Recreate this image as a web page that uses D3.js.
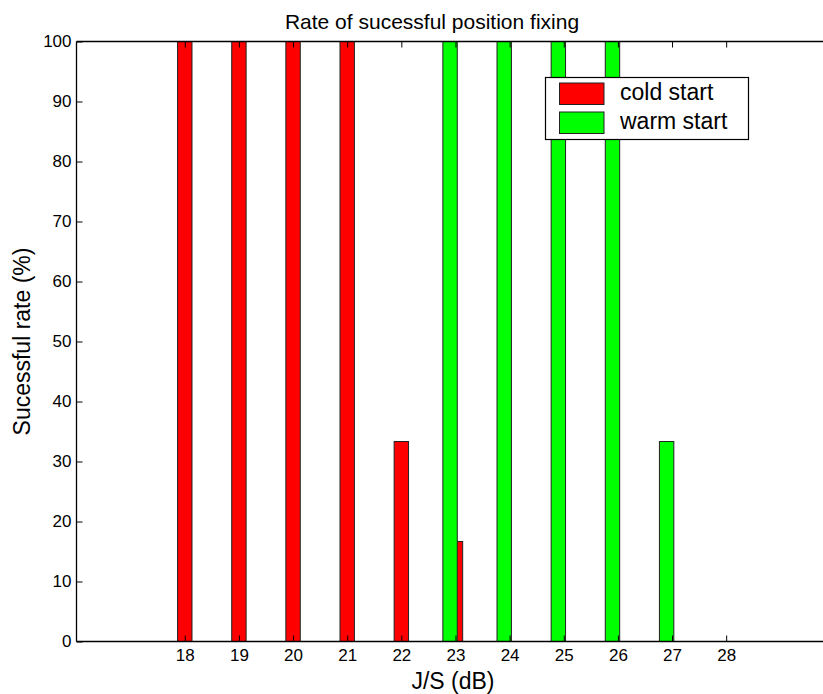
<!DOCTYPE html>
<html>
<head>
<meta charset="utf-8">
<script src="https://cdn.jsdelivr.net/npm/d3@7"></script>
<style>
  html, body { margin: 0; padding: 0; background: #fff; }
  svg { display: block; font-family: "Liberation Sans", Arial, sans-serif; }
</style>
</head>
<body>
<svg id="chart" width="823" height="694"></svg>
<script>
// J/S values (dB) and success rates (%)
const coldX = [18, 19, 20, 21, 22, 23];
const coldRate = [100, 100, 100, 100, 33.33, 16.67];
const warmX = [23, 24, 25, 26, 27];
const warmRate = [100, 100, 100, 100, 33.33];
const xTicks = [18, 19, 20, 21, 22, 23, 24, 25, 26, 27, 28];
const yTicks = [0, 10, 20, 30, 40, 50, 60, 70, 80, 90, 100];
const seriesNames = ["cold start", "warm start"];
const seriesColors = ["#ff0000", "#00ff00"];

const svg = d3.select("#chart");
const W = 823;
const plotLeft = 76.5, plotTop = 41.5, plotBottom = 641.5;
const unit = 54.14;

const x = d3.scaleLinear().domain([16, 30]).range([plotLeft, plotLeft + 14 * unit]);
const y = d3.scaleLinear().domain([0, 100]).range([plotBottom, plotTop]);

const barW = 0.266;      // bar width in x units
const warmShift = -0.1;  // warm series drawn slightly left of its tick

// title
svg.append("text")
  .attr("x", 432).attr("y", 29)
  .attr("text-anchor", "middle")
  .attr("font-size", 21)
  .text("Rate of sucessful position fixing");

// bars: cold start first, warm start drawn on top
const cold = coldX.map((v, i) => ({ x: v, r: coldRate[i] }));
const warm = warmX.map((v, i) => ({ x: v + warmShift, r: warmRate[i] }));

function drawBars(data, color) {
  svg.append("g").selectAll("rect").data(data).join("rect")
    .attr("x", d => x(d.x - barW / 2))
    .attr("y", d => y(d.r))
    .attr("width", d => x(d.x + barW / 2) - x(d.x - barW / 2))
    .attr("height", d => y(0) - y(d.r))
    .attr("fill", color)
    .attr("stroke", "#222")
    .attr("stroke-width", 1);
}
drawBars(cold, seriesColors[0]);
drawBars(warm, seriesColors[1]);

// axes frame (right side runs past the view)
const frame = svg.append("g").attr("stroke", "#000").attr("stroke-width", 1.3);
frame.append("line").attr("x1", plotLeft).attr("x2", W).attr("y1", plotBottom).attr("y2", plotBottom);
frame.append("line").attr("x1", plotLeft).attr("x2", W).attr("y1", plotTop).attr("y2", plotTop);
frame.append("line").attr("x1", plotLeft).attr("x2", plotLeft).attr("y1", plotTop).attr("y2", plotBottom);

// bottom axis, ticks pointing inward
const xAxis = d3.axisBottom(x).tickValues(xTicks).tickSizeInner(-6).tickSizeOuter(0).tickPadding(7.5);
const gx = svg.append("g").attr("transform", `translate(0,${plotBottom})`).call(xAxis);
gx.select(".domain").remove();
gx.selectAll("text").attr("font-size", 17).attr("font-family", "Liberation Sans, Arial, sans-serif").attr("fill", "#000");

// top tick marks
const xTop = d3.axisTop(x).tickValues(xTicks).tickSizeInner(-6).tickSizeOuter(0).tickFormat("");
const gxt = svg.append("g").attr("transform", `translate(0,${plotTop})`).call(xTop);
gxt.select(".domain").remove();

// left axis, ticks pointing inward
const yAxis = d3.axisLeft(y).tickValues(yTicks).tickSizeInner(-6).tickSizeOuter(0).tickPadding(5);
const gy = svg.append("g").attr("transform", `translate(${plotLeft},0)`).call(yAxis);
gy.select(".domain").remove();
gy.selectAll("text").attr("font-size", 17).attr("font-family", "Liberation Sans, Arial, sans-serif").attr("fill", "#000");

// axis labels
svg.append("text")
  .attr("x", 453).attr("y", 689)
  .attr("text-anchor", "middle")
  .attr("font-size", 23)
  .text("J/S (dB)");

svg.append("text")
  .attr("transform", `translate(29.5,${(plotTop + plotBottom) / 2}) rotate(-90)`)
  .attr("text-anchor", "middle")
  .attr("font-size", 23)
  .text("Sucessful rate (%)");

// legend
const lg = svg.append("g");
lg.append("rect")
  .attr("x", 545.5).attr("y", 77.5).attr("width", 203).attr("height", 62)
  .attr("fill", "#fff").attr("stroke", "#000").attr("stroke-width", 1.2);
seriesNames.forEach((name, i) => {
  const yy = 83 + i * 29;
  lg.append("rect")
    .attr("x", 559.5).attr("y", yy).attr("width", 44.5).attr("height", 21.5)
    .attr("fill", seriesColors[i]).attr("stroke", "#222").attr("stroke-width", 1);
  lg.append("text")
    .attr("x", 620).attr("y", 99.5 + i * 29)
    .attr("font-size", 23)
    .text(name);
});
</script>
</body>
</html>
